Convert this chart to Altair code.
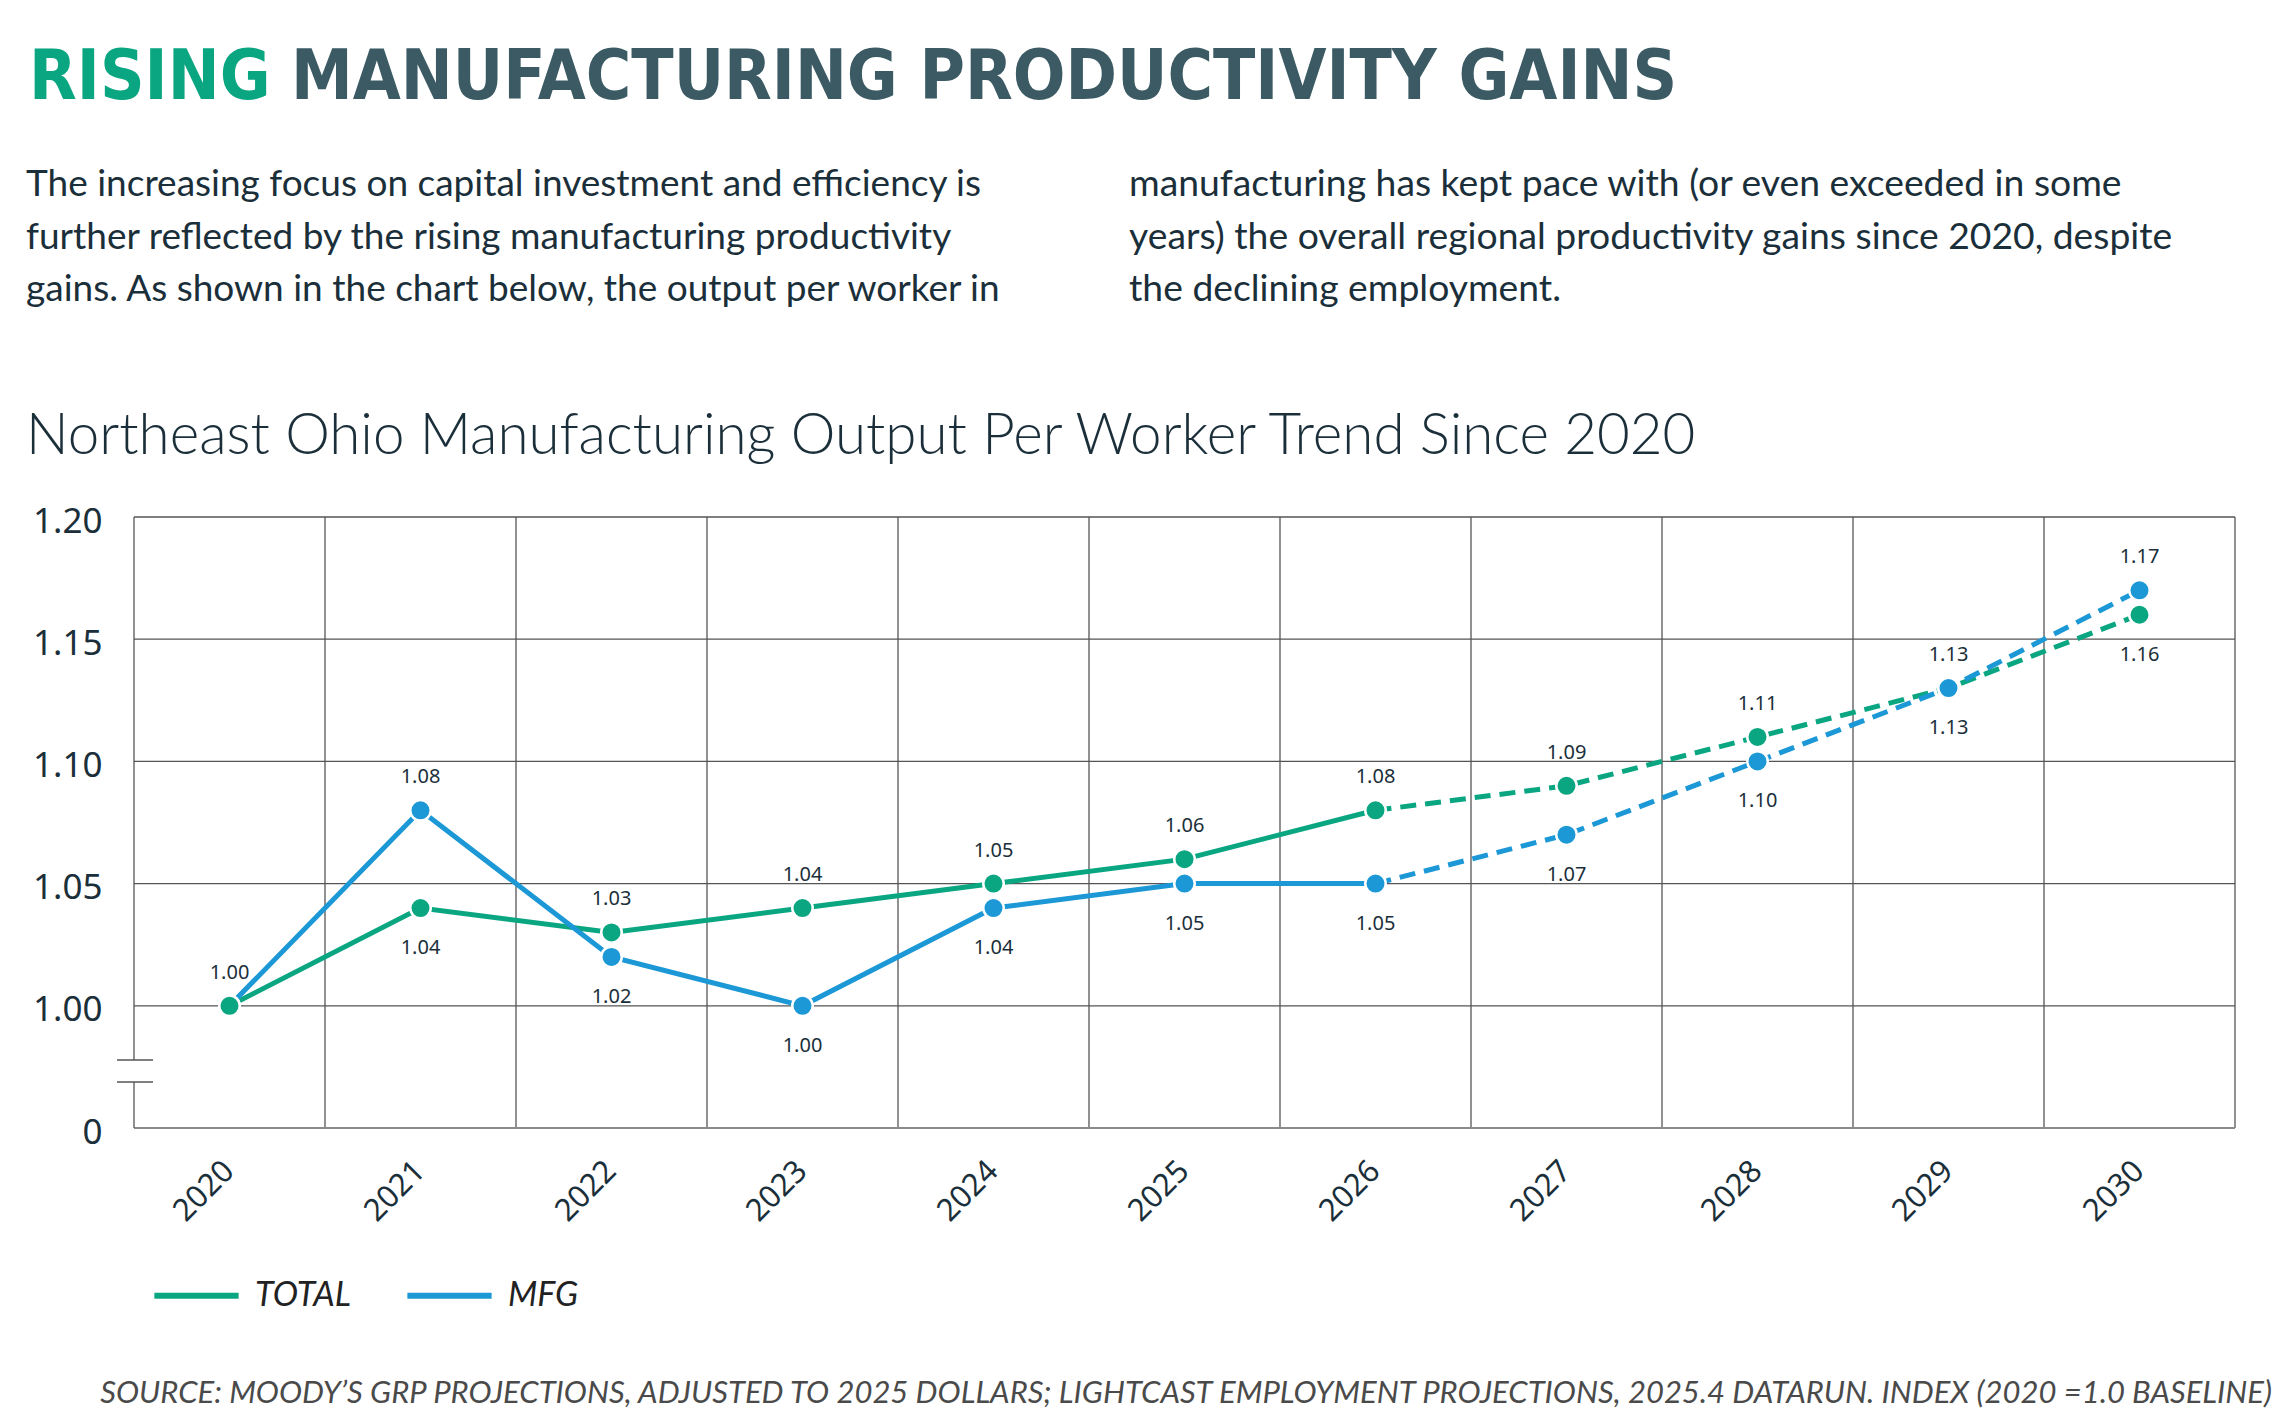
import altair as alt
import pandas as pd

# ---------------- data ----------------
years = [2020, 2021, 2022, 2023, 2024, 2025, 2026, 2027, 2028, 2029, 2030]
total = [1.00, 1.04, 1.03, 1.04, 1.05, 1.06, 1.08, 1.09, 1.11, 1.13, 1.16]
mfg = [1.00, 1.08, 1.02, 1.00, 1.04, 1.05, 1.05, 1.07, 1.10, 1.13, 1.17]
series_names = ["TOTAL", "MFG"]
last_actual_year = 2026
y_ticks = [0.95, 1.00, 1.05, 1.10, 1.15, 1.20]
grid_values = [1.00, 1.05, 1.10, 1.15, 1.20]

headline_a = "RISING"
headline_b = "MANUFACTURING PRODUCTIVITY GAINS"
para_left = [
    "The increasing focus on capital investment and efficiency is",
    "further reflected by the rising manufacturing productivity",
    "gains. As shown in the chart below, the output per worker in",
]
para_right = [
    "manufacturing has kept pace with (or even exceeded in some",
    "years) the overall regional productivity gains since 2020, despite",
    "the declining employment.",
]
chart_title = "Northeast Ohio Manufacturing Output Per Worker Trend Since 2020"
source_text = ("SOURCE: MOODY\u2019S GRP PROJECTIONS, ADJUSTED TO 2025 DOLLARS; LIGHTCAST "
               "EMPLOYMENT PROJECTIONS, 2025.4 DATARUN.  INDEX (2020 =1.0 BASELINE)")

# ---------------- styling ----------------
GREEN = "#0aa681"
BLUE = "#1b98d5"
DARK = "#1b2f3a"
HEAD = "#3b5a63"
GRID = "#555555"
W, H = 2101, 611

rows = []
for i, yr in enumerate(years):
    t, m = total[i], mfg[i]
    rows.append({"year": yr, "series": "TOTAL", "value": t,
                 "pos": "above" if t >= m else "below", "show": True, "z": 1 if i == 0 else 0})
    rows.append({"year": yr, "series": "MFG", "value": m,
                 "pos": "above" if m > t else "below", "show": not (i == 0 and m == t),
                 "z": 0 if i == 0 else 1})
df = pd.DataFrame(rows)
df["label"] = df["value"].map(lambda v: f"{v:.2f}")
df_solid = df[df["year"] <= last_actual_year]
df_dash = df[df["year"] >= last_actual_year]
df_pts = df.sort_values(["year", "z"])
df_lab = df[df["show"]]

x_enc = alt.X("year:O", scale=alt.Scale(type="band", paddingInner=0, paddingOuter=0, domain=years),
              bandPosition=0.5,
              axis=alt.Axis(title=None, labelAngle=315, labelAlign="right", labelBaseline="middle",
                            labelFont="Noto Sans", labelFontSize=31, labelColor=DARK,
                            labelPadding=38, ticks=False, domain=False, grid=False))
y_scale = alt.Scale(domain=[0.95, 1.20], nice=False, zero=False)
y_enc = alt.Y("value:Q", scale=y_scale,
              axis=alt.Axis(title=None, values=y_ticks,
                            labelExpr="datum.value < 0.97 ? '0' : format(datum.value, '.2f')",
                            labelFont="Noto Sans", labelFontSize=35, labelColor=DARK,
                            labelPadding=32, labelOffset=4, ticks=False, domain=False, grid=False))
color_enc = alt.Color("series:N", scale=alt.Scale(domain=series_names, range=[GREEN, BLUE]),
                      legend=alt.Legend(title=None, orient="none", legendX=17, legendY=733,
                                        direction="horizontal", symbolType="stroke",
                                        symbolSize=7100, symbolStrokeWidth=6,
                                        labelFont="Lato", labelFontStyle="italic",
                                        labelFontSize=34, labelColor="#222222",
                                        labelOffset=13, columnPadding=44))

one = pd.DataFrame({"k": [0]})

# gridlines
hgrid = alt.Chart(pd.DataFrame({"g": grid_values})).mark_rule(color=GRID, strokeWidth=1.3).encode(
    y=alt.Y("g:Q", scale=y_scale), x=alt.value(0), x2=alt.value(W))
vgrid = alt.Chart(pd.DataFrame({"year": years[1:]})).mark_rule(color=GRID, strokeWidth=1.3).encode(
    x=alt.X("year:O", bandPosition=0), y=alt.value(0), y2=alt.value(H))
right_edge = alt.Chart(one).mark_rule(color=GRID, strokeWidth=1.3).encode(
    x=alt.value(W), y=alt.value(0), y2=alt.value(H))
bottom = alt.Chart(one).mark_rule(color="#8a8a8a", strokeWidth=2).encode(
    x=alt.value(0), x2=alt.value(W), y=alt.value(H))
left_top = alt.Chart(one).mark_rule(color=GRID, strokeWidth=1.3).encode(
    x=alt.value(0), y=alt.value(0), y2=alt.value(543))
left_bot = alt.Chart(one).mark_rule(color=GRID, strokeWidth=1.3).encode(
    x=alt.value(0), y=alt.value(565), y2=alt.value(H))
brk1 = alt.Chart(one).mark_rule(color=GRID, strokeWidth=1.3).encode(
    x=alt.value(-17), x2=alt.value(19), y=alt.value(543))
brk2 = alt.Chart(one).mark_rule(color=GRID, strokeWidth=1.3).encode(
    x=alt.value(-17), x2=alt.value(19), y=alt.value(565))

# data layers
solid = alt.Chart(df_solid).mark_line(strokeWidth=5).encode(
    x=x_enc, y=y_enc, color=color_enc, detail="series:N")
dashed = alt.Chart(df_dash).mark_line(strokeWidth=5, strokeDash=[16, 9]).encode(
    x=x_enc, y=y_enc, color=color_enc, detail="series:N")
points = alt.Chart(df_pts).mark_point(filled=True, size=420, stroke="white", strokeWidth=2.5,
                                      opacity=1).encode(
    x=x_enc, y=y_enc,
    fill=alt.Fill("series:N", scale=alt.Scale(domain=series_names, range=[GREEN, BLUE]), legend=None),
    order=alt.Order("z:Q"))
lab_above = alt.Chart(df_lab[df_lab["pos"] == "above"]).mark_text(
    font="Noto Sans", fontSize=20, color=DARK, dy=-33, baseline="middle").encode(
    x=x_enc, y=y_enc, text="label:N")
lab_below = alt.Chart(df_lab[df_lab["pos"] == "below"]).mark_text(
    font="Noto Sans", fontSize=20, color=DARK, dy=40, baseline="middle").encode(
    x=x_enc, y=y_enc, text="label:N")

# text blocks
HEAD_FONT = "Liberation Sans Narrow, DejaVu Sans Condensed, sans-serif"
h1 = alt.Chart(one).mark_text(text=headline_a, font=HEAD_FONT, fontWeight="bold", fontSize=69,
                              color=GREEN, align="left", baseline="alphabetic").encode(
    x=alt.value(-105), y=alt.value(-418))
h2 = alt.Chart(one).mark_text(text=headline_b, font=HEAD_FONT, fontWeight="bold", fontSize=69,
                              color=HEAD, align="left", baseline="alphabetic").encode(
    x=alt.value(157), y=alt.value(-418))
p1 = alt.Chart(one).mark_text(text=para_left, font="Lato", fontSize=37, color=DARK, align="left",
                              baseline="alphabetic", lineHeight=52.5).encode(
    x=alt.value(-108), y=alt.value(-321))
p2 = alt.Chart(one).mark_text(text=para_right, font="Lato", fontSize=37.3, color=DARK, align="left",
                              baseline="alphabetic", lineHeight=52.5).encode(
    x=alt.value(995), y=alt.value(-321))
ct = alt.Chart(one).mark_text(text=chart_title, font="Lato", fontWeight=300, fontSize=56.5, color=DARK,
                              align="left", baseline="alphabetic").encode(
    x=alt.value(-108), y=alt.value(-63))
src = alt.Chart(one).mark_text(text=source_text, font="Lato", fontStyle="italic", fontSize=31,
                               color="#4a4a4a", align="right", baseline="alphabetic").encode(
    x=alt.value(2138), y=alt.value(886))

chart = alt.layer(
    hgrid, vgrid, right_edge, bottom, left_top, left_bot, brk1, brk2,
    solid, dashed, points, lab_above, lab_below,
    h1, h2, p1, p2, ct, src,
).resolve_scale(fill="independent").properties(
    width=W, height=H,
    padding={"left": 134, "top": 517, "right": 55, "bottom": 291},
    autosize=alt.AutoSizeParams(type="none"),
    background="white",
).configure_view(stroke=None)

chart.save("out.html", embed_options={"renderer": "svg", "actions": False})
